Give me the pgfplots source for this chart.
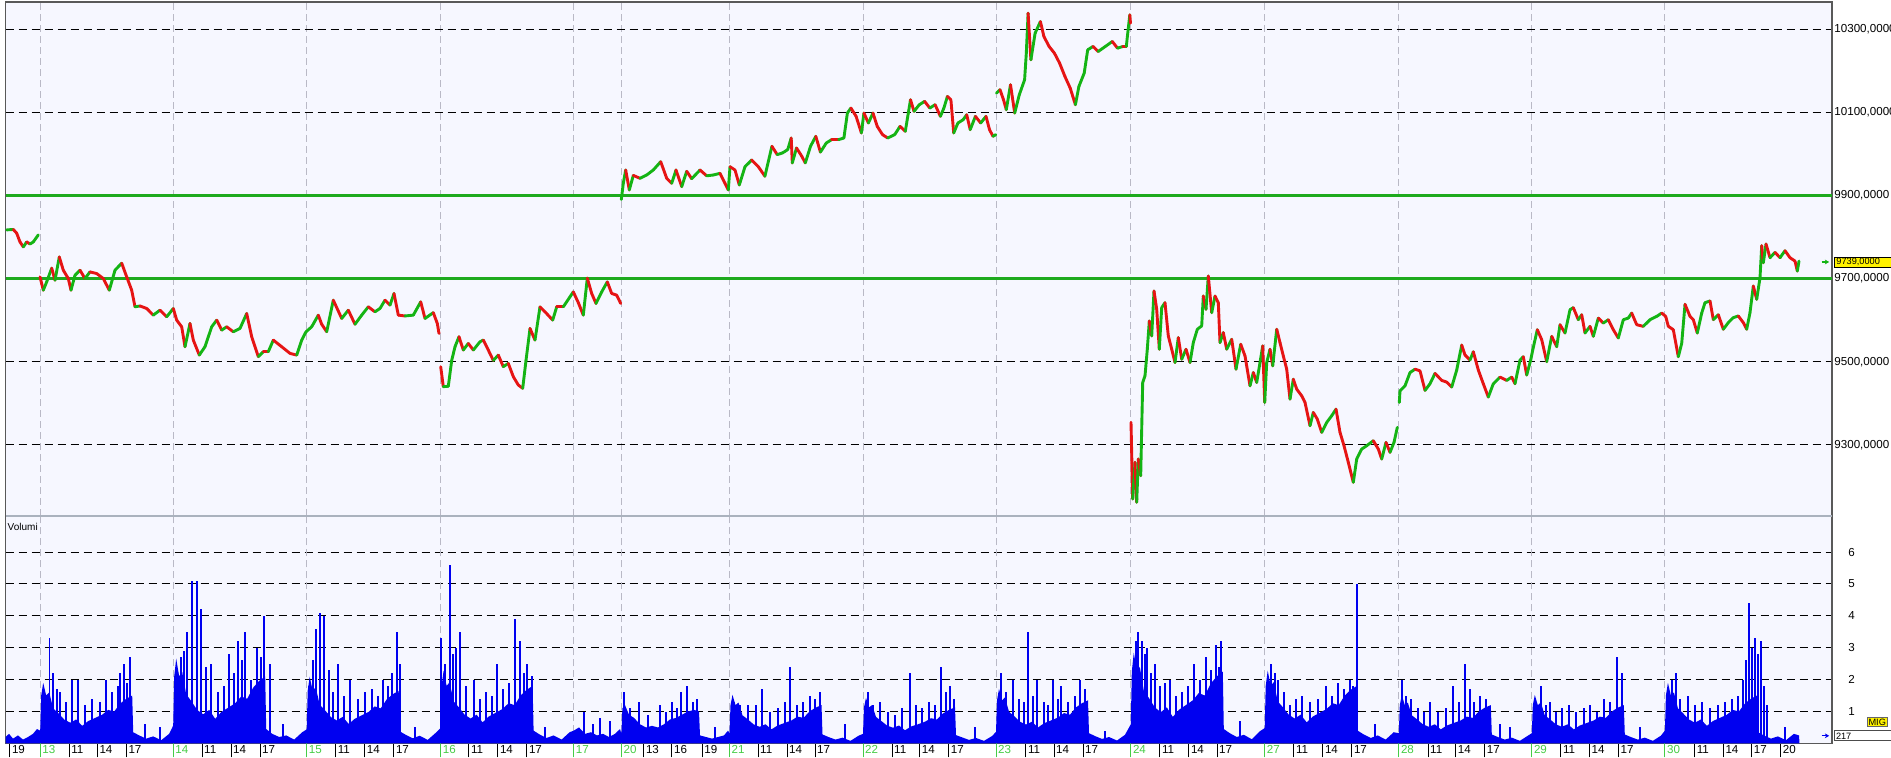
\documentclass[border=0pt]{standalone}
\usepackage{fontspec}
\setmainfont{Liberation Sans}
\usepackage{pgfplots}
\pgfplotsset{compat=1.18}
\usetikzlibrary{arrows.meta}
\definecolor{bgc}{RGB}{246,247,255}
\definecolor{gridgray}{RGB}{185,185,198}
\definecolor{lineg}{RGB}{30,170,30}
\definecolor{cG}{RGB}{20,180,20}
\definecolor{cR}{RGB}{230,20,20}
\definecolor{vblue}{RGB}{0,0,240}
\definecolor{dgreen}{RGB}{70,205,70}
\definecolor{sepgray}{RGB}{170,178,190}
\pgfplotsset{
  pricecurve/.style={mesh, shader=flat corner, line width=1.45pt, line cap=round, line join=round, point meta=explicit},
}
\begin{document}
\begin{tikzpicture}
\fill[white] (0,0) rectangle (945.5pt,-379pt);
% ---------------- price panel ----------------
\begin{axis}[
  at={(2.75pt,-1pt)}, anchor=north west,
  scale only axis, width=913.25pt, height=257pt,
  xmin=5.5, xmax=1832, ymin=9129, ymax=10365,
  axis background/.style={fill=bgc},
  axis line style={draw=black!65, line width=0.6pt},
  xtick={40.2,173.2,306.7,440.6,573.7,621.4,729.5,863,996,1130.8,1264.7,1398.8,1531.8,1664.9},
  xticklabels=\empty,
  xmajorgrids,
  x grid style={draw=gridgray, dash pattern=on 3.5pt off 2pt, line width=0.5pt},
  ytick={9300,9500,9700,9900,10100,10300},
  yticklabels={{9300,0000},{9500,0000},{9700,0000},{9900,0000},{10100,0000},{10300,0000}},
  ymajorgrids,
  y grid style={draw=black, dash pattern=on 4pt off 2.5pt, line width=0.5pt},
  major tick length=0pt,
  yticklabel pos=right,
  yticklabel style={anchor=west, inner sep=0pt, xshift=1pt, font=\fontsize{5.8}{7}\selectfont},
  colormap={rg}{rgb255=(230,20,20) rgb255=(20,180,20)},
  point meta min=0, point meta max=1,
]
\addplot[lineg, line width=1.5pt, forget plot] coordinates {(5.5,9700) (1832,9700)};
\addplot[lineg, line width=1.5pt, forget plot] coordinates {(5.5,9900) (1832,9900)};
% segment A
\addplot[pricecurve] table[x=x, y=y, meta=c] {
x y c
6.7 9817 1
13.3 9818 0
16.7 9809 0
20 9788 0
23.3 9776 1
26.7 9788 0
30 9783 1
33.3 9788 1
38.3 9805 1
};
% segment B
\addplot[pricecurve] table[x=x, y=y, meta=c] {
x y c
40 9704 0
43.3 9672 1
46.7 9692 1
51.7 9725 0
55 9696 1
59.3 9752 0
63.3 9720 0
68.3 9700 0
71 9672 1
75 9708 1
80 9720 0
85 9700 1
90 9716 0
96.7 9712 0
103.3 9700 0
109.3 9672 1
115 9720 1
121.7 9737 0
126.7 9704 0
131.7 9672 0
135 9632 1
140 9634 0
146.7 9628 0
153.3 9612 1
160 9624 0
166.7 9608 1
173.3 9628 0
176.7 9600 0
181.7 9584 0
185 9536 1
190 9592 0
193.3 9552 0
199.3 9516 1
205 9536 1
211.7 9584 1
216.7 9600 0
221.7 9576 1
226.7 9584 0
233.3 9572 1
240 9580 1
246.7 9616 0
251.7 9560 0
258.3 9512 1
263.3 9524 0
268.3 9524 1
273.3 9552 0
281.7 9536 0
290 9520 0
296.7 9516 1
301.7 9552 1
306 9572 1
311.7 9584 1
318.3 9612 0
321.7 9590 0
326.7 9572 1
333.3 9648 0
341.7 9604 1
348.3 9624 0
355 9590 1
361.7 9612 1
368.3 9632 0
375 9620 1
380 9628 1
385 9648 0
390 9636 1
394 9664 0
398.3 9612 0
405 9610 1
413.3 9612 1
420.7 9644 0
425 9604 1
433.3 9618 0
437.3 9592 0
439 9568 0
};
% segment C
\addplot[pricecurve] table[x=x, y=y, meta=c] {
x y c
440.7 9488 0
443.3 9440 1
448.3 9441 1
451.7 9503 1
455 9536 1
459 9560 0
463.3 9528 1
468.3 9544 0
473.3 9528 1
480 9548 1
483.3 9552 0
488.3 9528 0
493.3 9503 1
498.3 9516 0
503.3 9488 1
508.3 9496 0
513.3 9464 0
518.3 9444 0
522.7 9436 1
526 9503 1
530 9580 0
535 9552 1
540 9632 0
545 9620 0
552.7 9600 1
556.7 9632 0
563.3 9632 1
570 9656 1
573.3 9668 0
578.3 9642 0
583.3 9612 1
587.3 9701 0
591.7 9664 0
596 9640 1
601.7 9668 1
607.3 9692 0
611.7 9664 0
616.7 9660 0
620.7 9640 0
};
% segment D
\addplot[pricecurve] table[x=x, y=y, meta=c] {
x y c
621.3 9890 1
623.3 9929 1
625.7 9961 0
629.3 9913 1
633.3 9948 0
640 9941 1
646.7 9949 1
653.3 9961 1
660.7 9981 0
666.7 9941 0
671.7 9929 1
676 9961 0
681.7 9921 1
686.7 9958 0
691.7 9940 1
700 9961 0
706.7 9947 1
713.3 9949 1
720 9953 0
725 9929 0
728.3 9913 1
730 9969 0
735 9961 0
739.3 9925 1
745 9969 1
751.7 9985 0
758.3 9969 0
764.9 9946 1
771.9 10018 0
777.2 9998 1
782.5 10002 1
787.7 10010 1
791.2 10038 0
792.3 9978 1
796.5 10014 0
801.8 9994 0
805.3 9978 1
810.5 10018 1
815.8 10042 0
820.4 10004 1
826.3 10026 1
831.6 10034 0
838.6 10034 1
843.9 10038 1
847.4 10098 1
850.9 10110 0
856.1 10090 0
861.4 10050 1
863.9 10098 0
868.4 10074 1
873 10098 0
877.2 10066 0
882.5 10046 0
887.7 10038 1
894.7 10046 1
900 10066 0
905.3 10054 1
910.5 10130 0
914 10102 1
919.3 10118 1
924.6 10126 0
929.8 10110 1
935.1 10118 0
940.4 10090 1
943.9 10110 1
947.4 10138 0
950.9 10130 0
953.7 10050 1
957.9 10074 1
963.2 10082 1
966.7 10094 0
970.2 10058 1
975.4 10090 0
980.7 10074 1
986 10090 0
989.5 10058 0
993 10042 1
995.8 10046 0
};
% segment E
\addplot[pricecurve] table[x=x, y=y, meta=c] {
x y c
996.5 10146 1
1000 10154 0
1003.5 10130 0
1006.3 10106 1
1010.5 10166 0
1014.7 10098 1
1019.3 10142 1
1024.6 10178 1
1026.3 10242 1
1028.1 10338 0
1030.9 10226 1
1035.1 10290 1
1040.4 10318 0
1043.9 10282 0
1049.1 10258 0
1054.4 10242 0
1059.6 10218 0
1064.9 10186 0
1070.2 10158 0
1075.4 10118 1
1078.9 10162 1
1084.2 10194 1
1087.7 10250 1
1093 10258 0
1098.2 10246 1
1105.3 10258 1
1112.3 10270 0
1117.5 10254 1
1122.8 10258 0
1126.3 10258 1
1128.1 10298 1
1129.8 10334 0
1130.5 10314 0
};
% segment F
\addplot[pricecurve] table[x=x, y=y, meta=c] {
x y c
1131 9354 0
1132.7 9170 1
1135 9258 0
1136.7 9162 1
1138.3 9266 0
1140.7 9226 1
1142.7 9450 1
1145 9466 1
1147.3 9530 1
1149.3 9598 0
1151.7 9562 1
1154 9670 0
1156.7 9626 0
1159.3 9530 1
1161.7 9630 1
1165 9642 0
1168.3 9562 0
1171.7 9530 0
1175 9498 1
1178.3 9558 0
1181.7 9506 1
1186 9530 0
1190 9498 1
1193.3 9546 1
1197.3 9578 1
1201.7 9586 1
1203.3 9658 0
1206 9626 1
1208.3 9706 0
1211.7 9618 1
1215 9658 0
1218.3 9642 0
1220 9546 1
1223.3 9570 0
1226.7 9530 1
1231.7 9554 0
1236 9482 1
1240.7 9542 0
1245 9514 0
1250 9442 1
1253.3 9474 0
1256.7 9450 1
1260 9498 1
1262.7 9538 0
1264.7 9402 1
1266.7 9498 1
1270 9530 0
1272.7 9490 1
1276.7 9578 0
1280 9546 0
1283.3 9514 0
1286.7 9482 0
1290 9410 1
1293.3 9458 0
1296.7 9434 0
1301.7 9418 0
1305 9402 0
1310 9346 1
1313.3 9378 0
1317.3 9362 0
1321.7 9330 1
1326.7 9354 1
1331.7 9370 1
1336 9386 0
1340 9330 0
1344 9298 0
1348.3 9258 0
1353.3 9210 1
1356.7 9266 1
1361.7 9290 1
1366.7 9298 1
1373.3 9310 0
1378.3 9290 0
1381.7 9266 1
1386 9306 0
1390 9282 1
1394 9306 1
1397.3 9342 1
};
% segment G
\addplot[pricecurve] table[x=x, y=y, meta=c] {
x y c
1399.3 9402 1
1400 9430 1
1405 9442 1
1410 9474 1
1415 9482 0
1420 9478 0
1425 9431 1
1430 9447 1
1435 9472 0
1441.7 9455 0
1446.7 9451 0
1451.7 9439 1
1456.7 9480 1
1461.7 9540 0
1465 9516 0
1470 9504 1
1473.3 9524 0
1478.3 9480 0
1483.3 9447 0
1488.3 9415 1
1493.3 9447 1
1500 9463 0
1506.7 9455 1
1511.7 9463 0
1515 9447 1
1520 9504 1
1523.3 9512 0
1526.7 9468 1
1530.7 9504 1
1532.7 9528 1
1537.3 9577 0
1541.7 9553 0
1546.7 9500 1
1551.7 9561 0
1556.7 9536 1
1560 9589 0
1565 9569 1
1570 9625 1
1573.3 9630 0
1578.3 9601 1
1581.7 9613 0
1585 9569 1
1590 9585 0
1593.3 9561 1
1598.3 9605 0
1603.3 9593 1
1608.3 9601 0
1613.3 9577 0
1618.3 9557 1
1623.3 9601 1
1628.3 9605 1
1631.7 9617 0
1636.7 9589 0
1643.3 9585 1
1650 9601 1
1656.7 9609 1
1661.7 9617 0
1665.7 9609 0
1668.3 9585 0
1673.3 9577 0
1678.3 9512 1
1681.7 9544 1
1685 9638 0
1690 9609 0
1693.3 9601 0
1697.3 9569 1
1701.7 9617 1
1705 9642 1
1710 9646 0
1713.3 9601 1
1718.3 9613 0
1723.3 9578 1
1728.3 9594 1
1733.3 9606 1
1738.3 9610 0
1743.3 9594 0
1746.7 9578 1
1750 9618 1
1753.3 9682 0
1756.7 9650 1
1760 9702 1
1761.7 9779 0
1763.3 9738 1
1766 9783 0
1770 9750 1
1775 9763 0
1780 9750 1
1785 9767 0
1790 9750 0
1795 9742 0
1797.3 9718 1
1799 9742 0
};
\end{axis}
% ---------------- volume panel ----------------
\begin{axis}[
  at={(2.75pt,-258pt)}, anchor=north west,
  scale only axis, width=913.25pt, height=113.7pt,
  xmin=5.5, xmax=1832, ymin=0, ymax=7.13,
  axis background/.style={fill=bgc},
  axis line style={draw=black!65, line width=0.6pt},
  xtick={9.8,69.2,97.3,126.3,202,231,260,335.7,364.7,393.8,468.8,497.8,526.8,643.8,671.9,702.2,758,787,815,892,919.6,948.7,1025.9,1054,1083,1159.8,1188.8,1217,1293.8,1322.8,1351.8,1428,1455.7,1484.7,1560.8,1589.5,1618.5,1694.6,1723.3,1751.6,1780.6},
  xticklabels={19,11,14,17,11,14,17,11,14,17,11,14,17,13,16,19,11,14,17,11,14,17,11,14,17,11,14,17,11,14,17,11,14,17,11,14,17,11,14,17,20},
  extra x ticks={40.2,173.2,306.7,440.6,573.7,621.4,729.5,863,996,1130.8,1264.7,1398.8,1531.8,1664.9},
  extra x tick labels={13,14,15,16,17,20,21,22,23,24,27,28,29,30},
  extra x tick style={grid=major, xtick style={draw=dgreen, line width=0.5pt}, xticklabel style={text=dgreen}},
  x grid style={draw=gridgray, dash pattern=on 3.5pt off 2pt, line width=0.5pt},
  xtick pos=left,
  tick align=outside,
  major tick length=7pt,
  xtick style={draw=black, line width=0.5pt},
  xticklabel style={anchor=north west, inner sep=0pt, xshift=0.9pt, yshift=6.2pt, font=\fontsize{5.8}{7}\selectfont},
  ytick={1,2,3,4,5,6},
  yticklabels={1,2,3,4,5,6},
  ytick style={draw=none},
  ymajorgrids,
  y grid style={draw=black, dash pattern=on 4pt off 2.5pt, line width=0.5pt},
  yticklabel pos=right,
  yticklabel style={anchor=west, inner sep=0pt, xshift=1pt, font=\fontsize{5.8}{7}\selectfont},
]
\addplot[draw=none, fill=vblue] coordinates {
(5.5,0.2) (9,0.3) (13,0.15) (18,0.25) (23,0.12) (28,0.2) (33,0.3) (37,0.45)
(40.2,0.4) (41.2,1.5) (43.2,1.9) (46.2,1.5) (49.2,1.6) (53.2,1.1) (58.2,0.95) (64.2,0.75) (70.2,0.65) (76.2,0.75) (82.2,0.55) (88.2,0.7) (95.2,0.8) (102.2,0.9) (108.2,1.05) (114.2,1.0) (120.2,1.25) (126.2,1.4) (132.2,1.5) (133.2,0.35) (139.2,0.25) (146.2,0.15) (153.2,0.22) (161.2,0.1) (169.2,0.3)
(173.2,0.56) (174.2,2.1) (176.2,2.66) (179.2,2.1) (182.2,2.24) (186.2,1.54) (191.2,1.33) (197.2,1.05) (203.2,0.91) (209.2,1.05) (215.2,0.77) (221.2,0.98) (228.2,1.12) (235.2,1.26) (241.2,1.47) (247.2,1.4) (253.2,1.75) (259.2,1.96) (265.2,2.1) (266.2,0.45) (272.2,0.3) (279.2,0.2) (286.2,0.25) (294.2,0.12) (302.2,0.35)
(306.7,0.44) (307.7,1.65) (309.7,2.09) (312.7,1.65) (315.7,1.76) (319.7,1.21) (324.7,1.05) (330.7,0.83) (336.7,0.72) (342.7,0.83) (348.7,0.61) (354.7,0.77) (361.7,0.88) (368.7,0.99) (374.7,1.16) (380.7,1.1) (386.7,1.38) (392.7,1.54) (398.7,1.65) (399.7,0.38) (405.7,0.27) (412.7,0.16) (419.7,0.24) (427.7,0.11) (435.7,0.33)
(440.6,0.48) (441.6,1.8) (443.6,2.28) (446.6,1.8) (449.6,1.92) (453.6,1.32) (458.6,1.14) (464.6,0.9) (470.6,0.78) (476.6,0.9) (482.6,0.66) (488.6,0.84) (495.6,0.96) (502.6,1.08) (508.6,1.26) (514.6,1.2) (520.6,1.5) (526.6,1.68) (532.6,1.8) (533.6,0.4) (539.6,0.28) (546.6,0.17) (553.6,0.25) (561.6,0.12) (569.6,0.35)
(573.7,0.4) (579,0.5) (585,0.3) (591,0.35) (597,0.25) (603,0.3) (609,0.2) (615,0.3) (620,0.45)
(621.4,0.3) (622.4,1.1) (625,1.2) (629,0.9) (634,0.8) (640,0.6) (646,0.5) (652,0.55) (658,0.5) (664,0.6) (670,0.75) (676,0.8) (682,0.9) (688,1.0) (694,1.05) (699,1.0) (700,0.25) (706,0.2) (712,0.15) (718,0.2) (724,0.25) (728,0.4)
(729.5,0.32) (730.5,1.2) (732.5,1.52) (735.5,1.2) (738.5,1.28) (742.5,0.88) (747.5,0.76) (753.5,0.6) (759.5,0.52) (765.5,0.6) (771.5,0.44) (777.5,0.56) (784.5,0.64) (791.5,0.72) (797.5,0.84) (803.5,0.8) (809.5,1.0) (815.5,1.12) (821.5,1.2) (822.5,0.28) (828.5,0.2) (835.5,0.12) (842.5,0.18) (850.5,0.08) (858.5,0.24)
(863,0.3) (864,1.13) (866,1.43) (869,1.13) (872,1.2) (876,0.83) (881,0.71) (887,0.56) (893,0.49) (899,0.56) (905,0.41) (911,0.53) (918,0.6) (925,0.68) (931,0.79) (937,0.75) (943,0.94) (949,1.05) (955,1.13) (956,0.26) (962,0.19) (969,0.11) (976,0.17) (984,0.08) (992,0.23)
(996,0.36) (997,1.35) (999,1.71) (1002,1.35) (1005,1.44) (1009,0.99) (1014,0.86) (1020,0.68) (1026,0.59) (1032,0.68) (1038,0.5) (1044,0.63) (1051,0.72) (1058,0.81) (1064,0.95) (1070,0.9) (1076,1.13) (1082,1.26) (1088,1.35) (1089,0.32) (1095,0.23) (1102,0.14) (1109,0.2) (1117,0.09) (1125,0.27)
(1130.8,0.6) (1131.8,2.25) (1133.8,2.85) (1136.8,2.25) (1139.8,2.4) (1143.8,1.65) (1148.8,1.43) (1154.8,1.13) (1160.8,0.98) (1166.8,1.13) (1172.8,0.83) (1178.8,1.05) (1185.8,1.2) (1192.8,1.35) (1198.8,1.58) (1204.8,1.5) (1210.8,1.88) (1216.8,2.1) (1222.8,2.25) (1223.8,0.45) (1229.8,0.32) (1236.8,0.2) (1243.8,0.27) (1251.8,0.13) (1259.8,0.38)
(1264.7,0.48) (1265.7,1.8) (1267.7,2.28) (1270.7,1.8) (1273.7,1.92) (1277.7,1.32) (1282.7,1.14) (1288.7,0.9) (1294.7,0.78) (1300.7,0.9) (1306.7,0.66) (1312.7,0.84) (1319.7,0.96) (1326.7,1.08) (1332.7,1.26) (1338.7,1.2) (1344.7,1.5) (1350.7,1.68) (1356.7,1.8) (1357.7,0.4) (1363.7,0.28) (1370.7,0.17) (1377.7,0.25) (1385.7,0.12) (1393.7,0.35)
(1398.8,0.32) (1399.8,1.2) (1401.8,1.52) (1404.8,1.2) (1407.8,1.28) (1411.8,0.88) (1416.8,0.76) (1422.8,0.6) (1428.8,0.52) (1434.8,0.6) (1440.8,0.44) (1446.8,0.56) (1453.8,0.64) (1460.8,0.72) (1466.8,0.84) (1472.8,0.8) (1478.8,1.0) (1484.8,1.12) (1490.8,1.2) (1491.8,0.28) (1497.8,0.2) (1504.8,0.12) (1511.8,0.18) (1519.8,0.08) (1527.8,0.24)
(1531.8,0.32) (1532.8,1.2) (1534.8,1.52) (1537.8,1.2) (1540.8,1.28) (1544.8,0.88) (1549.8,0.76) (1555.8,0.6) (1561.8,0.52) (1567.8,0.6) (1573.8,0.44) (1579.8,0.56) (1586.8,0.64) (1593.8,0.72) (1599.8,0.84) (1605.8,0.8) (1611.8,1.0) (1617.8,1.12) (1623.8,1.2) (1624.8,0.28) (1630.8,0.2) (1637.8,0.12) (1644.8,0.18) (1652.8,0.08) (1660.8,0.24)
(1664.9,0.4) (1665.9,1.5) (1667.9,1.9) (1670.9,1.5) (1673.9,1.6) (1677.9,1.1) (1682.9,0.95) (1688.9,0.75) (1694.9,0.65) (1700.9,0.75) (1706.9,0.55) (1712.9,0.7) (1719.9,0.8) (1726.9,0.9) (1732.9,1.05) (1738.9,1.0) (1744.9,1.25) (1750.9,1.4) (1756.9,1.5) (1757.9,0.35) (1763.9,0.25) (1770.9,0.15) (1777.9,0.22) (1785.9,0.1) (1793.9,0.3) (1799,0.25) (1799.5,0)
} \closedcycle;
\addplot[ycomb, vblue, line width=0.55pt] coordinates {
(49.5,3.3) (53,2.2) (57,1.7) (60,1.6) (66,1.3) (72,2.0) (78,2.0) (85,1.2) (92,1.4) (100,1.3) (106,2.0) (112,1.6) (118,1.8) (120,2.2) (124,2.5) (127,1.9) (130,2.7)
(176,2.0) (181,2.7) (184,2.9) (187,3.5) (192,5.1) (197,5.1) (201,4.2) (206,2.4) (211,2.5) (218,1.6) (224,1.8) (229,2.8) (234,2.2) (238,3.2) (242,2.6) (245,3.5) (251,2.0) (257,3.0) (261,2.7) (264,4.0) (270,2.5)
(309,1.8) (313,2.6) (316,3.6) (320,4.1) (324,4.0) (329,2.3) (333,1.6) (338,2.5) (344,1.5) (350,2.0) (358,1.4) (365,1.6) (372,1.7) (378,1.5) (383,2.0) (388,1.8) (392,2.2) (397,3.5) (400,2.5)
(441,3.3) (445,2.5) (450,5.6) (453,2.8) (456,3.0) (460,3.5) (466,1.8) (474,2.0) (480,1.4) (486,1.6) (492,1.5) (497,2.5) (503,1.7) (509,1.9) (515,3.9) (520,3.2) (524,2.2) (527,2.5) (532,2.1)
(584,1.0) (593,0.6) (600,0.8) (610,0.7)
(624,1.6) (630,1.1) (639,1.3) (648,0.9) (660,1.2) (666,1.0) (672,1.3) (677,1.1) (681,1.6) (687,1.8) (693,1.3) (697,1.4)
(734,1.3) (740,1.2) (748,1.2) (756,1.2) (762,1.7) (770,1.0) (778,1.1) (785,1.3) (790,2.4) (797,1.2) (803,1.3) (810,1.5) (815,1.4) (820,1.6)
(868,1.6) (873,1.2) (880,1.3) (888,1.0) (895,0.9) (902,1.1) (910,2.2) (916,1.2) (922,1.1) (929,1.3) (935,1.2) (941,2.4) (946,1.6) (950,1.8) (954,1.4)
(1001,2.2) (1006,1.6) (1013,2.0) (1019,1.4) (1024,1.3) (1028,3.5) (1033,1.5) (1037,2.0) (1044,1.3) (1048,1.2) (1053,2.0) (1058,1.4) (1061,1.8) (1068,1.3) (1075,1.5) (1080,2.0) (1085,1.7)
(1134,2.5) (1136,3.2) (1138,3.5) (1142,3.2) (1145,2.8) (1147,3.0) (1151,2.2) (1155,2.5) (1160,1.8) (1165,1.9) (1170,2.0) (1176,1.5) (1182,1.6) (1188,1.8) (1194,2.5) (1200,2.0) (1206,2.7) (1211,2.3) (1216,3.1) (1219,2.4) (1221,3.2)
(1268,1.9) (1271,2.5) (1275,2.2) (1278,2.0) (1284,1.6) (1290,1.2) (1296,1.4) (1302,1.5) (1310,1.3) (1318,1.4) (1326,1.8) (1332,1.5) (1338,1.9) (1344,1.7) (1350,2.0) (1353,1.8) (1357,5.0)
(1402,2.0) (1406,1.5) (1411,1.4) (1418,1.1) (1424,1.0) (1430,1.3) (1438,1.0) (1446,1.1) (1453,1.8) (1459,1.3) (1465,2.5) (1470,1.7) (1474,1.3) (1480,1.5) (1486,1.4)
(1536,1.3) (1541,1.8) (1546,1.2) (1550,1.3) (1556,1.0) (1562,1.1) (1569,1.2) (1576,1.0) (1584,1.1) (1590,1.2) (1597,1.0) (1604,1.4) (1610,1.3) (1617,2.7) (1622,2.2)
(1668,1.6) (1672,2.0) (1676,2.2) (1680,1.4) (1688,1.5) (1695,1.2) (1702,1.3) (1710,1.1) (1718,1.2) (1725,1.3) (1732,1.4) (1738,1.5) (1743,2.0) (1746,2.6) (1749,4.4) (1752,3.0) (1755,3.3) (1758,2.8) (1761,3.2) (1764,1.8) (1767,1.2)
(145,0.6) (160,0.5) (283,0.6) (415,0.5) (545,0.5) (715,0.5) (845,0.6) (975,0.5) (1105,0.4) (1240,0.7) (1375,0.6) (1500,0.6) (1510,0.5) (1640,0.5) (1785,0.5)
};
\node[anchor=west, inner sep=0pt, font=\fontsize{5}{6}\selectfont] at (rel axis cs:0.001,0.952) {Volumi};
\end{axis}
% ---------------- decorations ----------------
\draw[sepgray, line width=1.2pt] (2.75pt,-258pt) -- (916pt,-258pt);
\draw[black, line width=0.4pt, fill=yellow] (917.3pt,-128.5pt) rectangle (950pt,-133.5pt);
\node[anchor=west, inner sep=0pt, font=\fontsize{4.6}{5}\selectfont] at (918pt,-131.1pt) {9739,0000};
\draw[-{Stealth[length=2.2pt,width=2.4pt]}, cG, line width=0.6pt] (910.8pt,-131pt) -- (914.6pt,-131pt);
\node[draw=black!60, fill=yellow, inner sep=0.7pt, font=\fontsize{4.6}{5}\selectfont] at (938.6pt,-361pt) {MIG};
\draw[black!70, line width=0.4pt, fill=white] (917pt,-365.2pt) rectangle (950pt,-370.4pt);
\node[anchor=west, inner sep=0pt, font=\fontsize{4.6}{5}\selectfont] at (917.8pt,-367.9pt) {217};
\draw[-{Stealth[length=2.2pt,width=2.4pt]}, vblue, line width=0.6pt] (910.8pt,-367.9pt) -- (914.6pt,-367.9pt);
\pgfresetboundingbox
\useasboundingbox (0,0) rectangle (945.5pt,-379pt);
\end{tikzpicture}
\end{document}
